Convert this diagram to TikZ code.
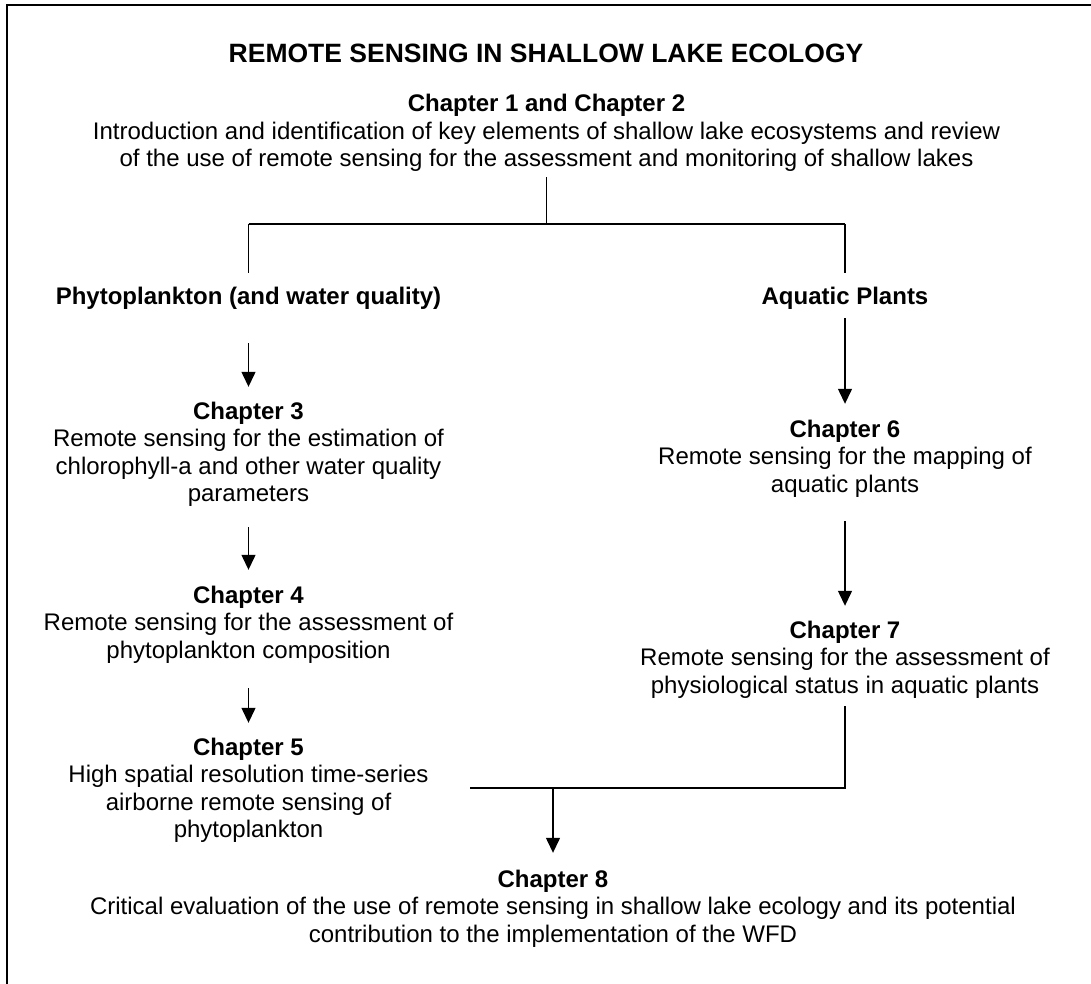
\documentclass[tikz,border=0pt]{standalone}
\usepackage{fontspec}
\setmainfont{Liberation Sans}
\usetikzlibrary{arrows.meta}
\newcommand{\bodysize}{\fontsize{24}{27.5}\selectfont}
\newcommand{\blk}[1]{\begin{tabular}[t]{@{}c@{}}#1\end{tabular}}
\begin{document}
\begin{tikzpicture}[x=1pt,y=-1pt,
  txt/.style={anchor=base, inner sep=0pt, font=\bodysize},
  conn/.style={line width=1.3pt, draw=black},
  arr/.style={conn, -{Triangle[width=14pt,length=15pt]}},
  frame/.style={line width=1.5pt, draw=black}]
\fill[white] (0,0) rectangle (1091,984);
\useasboundingbox (0,0) rectangle (1091,984);
% page frame (top and left edges only)
\draw[frame] (1091,5) -- (7,5) -- (7,984);

\node[anchor=base, inner sep=0pt, font=\fontsize{26.5}{30}\selectfont\bfseries] (title) at (546,63)
  {REMOTE SENSING IN SHALLOW LAKE ECOLOGY};

\node[txt] (head) at (546.5,112) {\blk{\textbf{Chapter 1 and Chapter 2}\\
  Introduction and identification of key elements of shallow lake ecosystems and review\\
  of the use of remote sensing for the assessment and monitoring of shallow lakes}};

\node[txt] (phyto) at (248.5,304) {\blk{\textbf{Phytoplankton (and water quality)}}};
\node[txt] (aqua) at (845,304) {\blk{\textbf{Aquatic Plants}}};

\node[txt] (ch3) at (248.5,419) {\blk{\textbf{Chapter 3}\\
  Remote sensing for the estimation of\\
  chlorophyll-a and other water quality\\
  parameters}};
\node[txt] (ch4) at (248.5,603) {\blk{\textbf{Chapter 4}\\
  Remote sensing for the assessment of\\
  phytoplankton composition}};
\node[txt] (ch5) at (248.5,755) {\blk{\textbf{Chapter 5}\\
  High spatial resolution time-series\\
  airborne remote sensing of\\
  phytoplankton}};
\node[txt] (ch6) at (845,437) {\blk{\textbf{Chapter 6}\\
  Remote sensing for the mapping of\\
  aquatic plants}};
\node[txt] (ch7) at (845,638) {\blk{\textbf{Chapter 7}\\
  Remote sensing for the assessment of\\
  physiological status in aquatic plants}};
\node[txt] (ch8) at (553,887) {\blk{\textbf{Chapter 8}\\
  Critical evaluation of the use of remote sensing in shallow lake ecology and its potential\\
  contribution to the implementation of the WFD}};

% split from chapters 1-2
\coordinate (split) at (546.5,224);
\draw[conn, shorten <=1.75pt] (head.south) -- (split);
\draw[conn] (phyto.north |- split) -- (aqua.north |- split);
\draw[conn, shorten >=11.75pt] (phyto.north |- split) -- (phyto.north);
\draw[conn, shorten >=11.75pt] (aqua.north |- split) -- (aqua.north);

% left column
\draw[arr, shorten <=30.75pt, shorten >=12.75pt] (phyto.south) -- (ch3.north);
\draw[arr, shorten <=17.25pt, shorten >=13.75pt] (ch3.south) -- (ch4.north);
\draw[arr, shorten <=21.75pt, shorten >=12.75pt] (ch4.south) -- (ch5.north);

% right column
\draw[arr, shorten <=5.75pt, shorten >=13.75pt] (aqua.south) -- (ch6.north);
\draw[arr, shorten <=20.75pt, shorten >=12.75pt] (ch6.south) -- (ch7.north);

% merge into chapter 8
\coordinate (mergeL) at (470,788);
\coordinate (merge) at (553,788);
\draw[conn, shorten <=4.75pt] (ch7.south) |- (mergeL);
\draw[arr, shorten >=14.75pt] (merge) -- (ch8.north);
\end{tikzpicture}
\end{document}
